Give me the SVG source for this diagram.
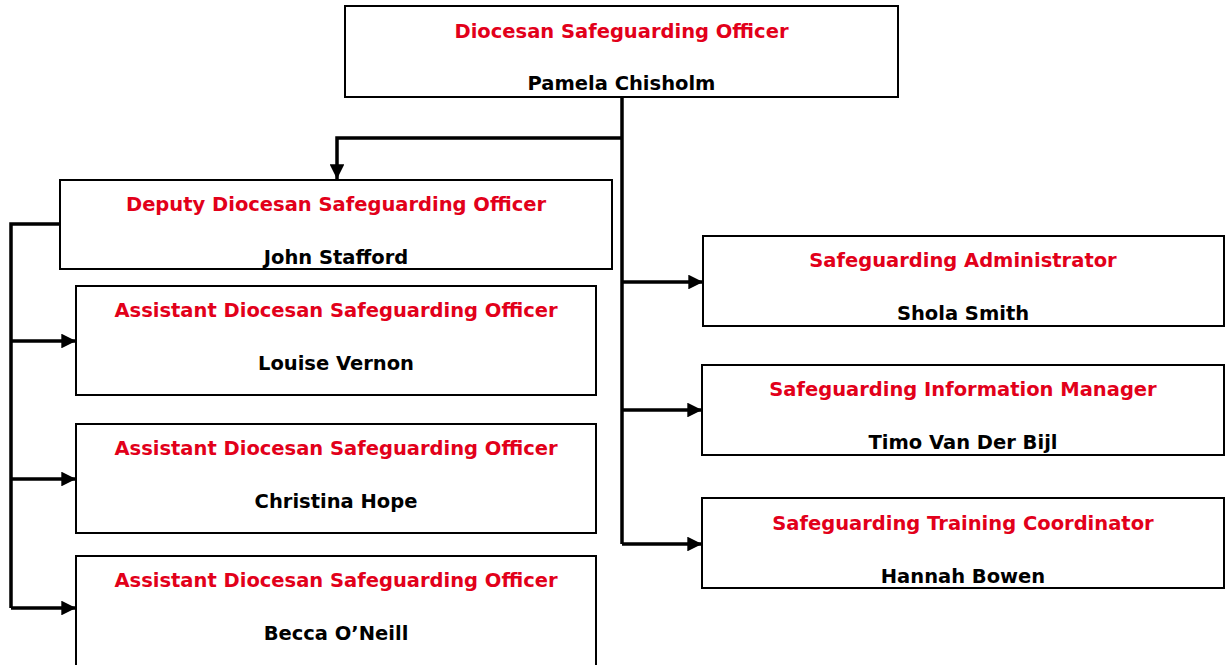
<svg xmlns="http://www.w3.org/2000/svg" width="1227" height="665" viewBox="0 0 1227 665">
<style>
.box{fill:#fff;stroke:#000;stroke-width:2}
.t{font-family:"DejaVu Sans",Verdana,sans-serif;font-weight:bold;font-size:19.5px;text-anchor:middle}
.r{fill:#e2001a}
.k{fill:#000}
.c{fill:none;stroke:#000;stroke-width:3.5}
</style>
<defs>
<marker id="ah" viewBox="0 0 10 10" refX="10" refY="5" markerWidth="4.2" markerHeight="4.2" markerUnits="strokeWidth" orient="auto">
<path d="M0,0 L10,5 L0,10 Z" fill="#000"/>
</marker>
</defs>
<rect width="1227" height="665" fill="#fff"/>
<g id="connectors">
<path class="c" d="M622,97 V544"/>
<path class="c" d="M622,138 H337 V179" marker-end="url(#ah)"/>
<path class="c" d="M622,282 H703" marker-end="url(#ah)"/>
<path class="c" d="M622,410 H702" marker-end="url(#ah)"/>
<path class="c" d="M622,544 H702" marker-end="url(#ah)"/>
<path class="c" d="M60,224 H11 V608"/>
<path class="c" d="M11,341 H76" marker-end="url(#ah)"/>
<path class="c" d="M11,479 H76" marker-end="url(#ah)"/>
<path class="c" d="M11,608 H76" marker-end="url(#ah)"/>
</g>
<g id="dso">
<rect class="box" x="345" y="6" width="553" height="91"/>
<text class="t r" x="621.5" y="38">Diocesan Safeguarding Officer</text>
<text class="t k" x="621.5" y="90">Pamela Chisholm</text>
</g>
<g id="deputy">
<rect class="box" x="60" y="180" width="552" height="89"/>
<text class="t r" x="336" y="211">Deputy Diocesan Safeguarding Officer</text>
<text class="t k" x="336" y="264">John Stafford</text>
</g>
<g id="asst1">
<rect class="box" x="76" y="286" width="520" height="109"/>
<text class="t r" x="336" y="317">Assistant Diocesan Safeguarding Officer</text>
<text class="t k" x="336" y="370">Louise Vernon</text>
</g>
<g id="asst2">
<rect class="box" x="76" y="424" width="520" height="109"/>
<text class="t r" x="336" y="455">Assistant Diocesan Safeguarding Officer</text>
<text class="t k" x="336" y="508">Christina Hope</text>
</g>
<g id="asst3">
<rect class="box" x="76" y="556" width="520" height="112"/>
<text class="t r" x="336" y="587">Assistant Diocesan Safeguarding Officer</text>
<text class="t k" x="336" y="640">Becca O’Neill</text>
</g>
<g id="admin">
<rect class="box" x="703" y="236" width="521" height="90"/>
<text class="t r" x="963" y="267">Safeguarding Administrator</text>
<text class="t k" x="963" y="320">Shola Smith</text>
</g>
<g id="info">
<rect class="box" x="702" y="365" width="522" height="90"/>
<text class="t r" x="963" y="396">Safeguarding Information Manager</text>
<text class="t k" x="963" y="449">Timo Van Der Bijl</text>
</g>
<g id="training">
<rect class="box" x="702" y="498" width="522" height="90"/>
<text class="t r" x="963" y="530">Safeguarding Training Coordinator</text>
<text class="t k" x="963" y="583">Hannah Bowen</text>
</g>
</svg>
